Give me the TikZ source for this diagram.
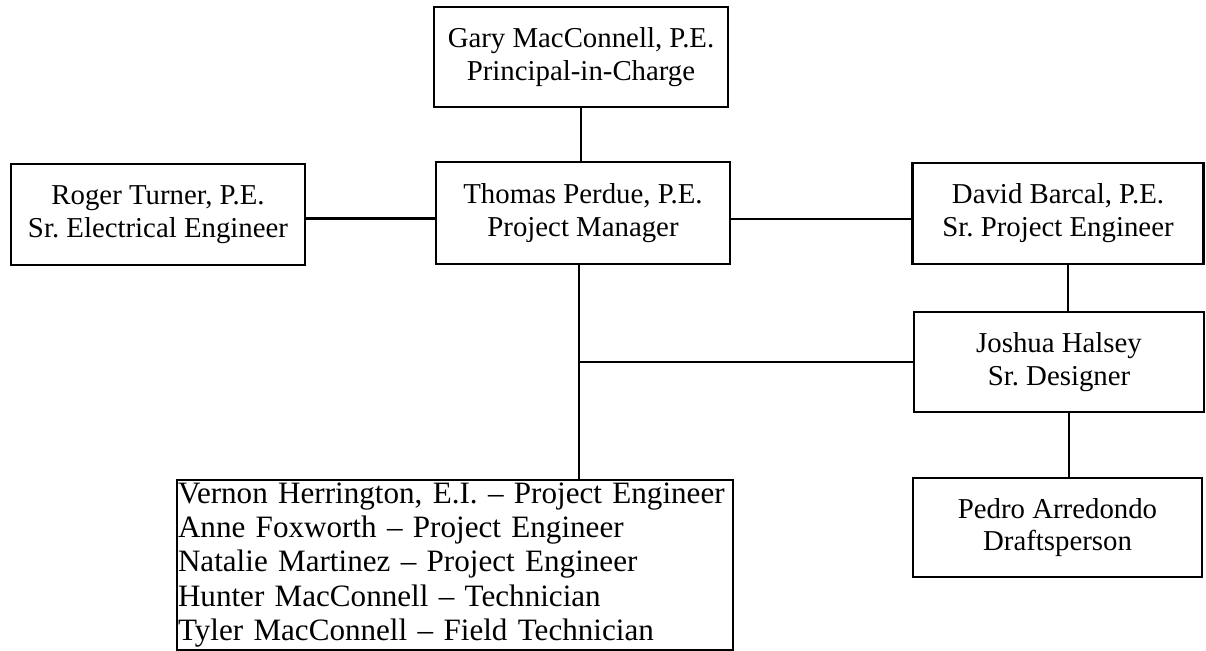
\documentclass[tikz,border=0pt]{standalone}
\usepackage{fontspec}
\setmainfont{Liberation Serif}
\begin{document}
\frenchspacing
\begin{tikzpicture}[x=0.02cm,y=-0.02cm,
  box/.style={draw, line width=1.2pt, align=center, inner sep=0pt,
    font=\frenchspacing\fontsize{16.4}{18.7}\selectfont},
  line/.style={line width=1.2pt}]
\useasboundingbox (0,0) rectangle (1206,650);
\node[box, minimum width=294*0.02cm, minimum height=100*0.02cm] (gary) at (581,57) {Gary MacConnell, P.E.\\Principal-in-Charge};
\node[box, minimum width=294*0.02cm, minimum height=102*0.02cm] (thomas) at (583,213) {Thomas Perdue, P.E.\\Project Manager};
\node[box, minimum width=294*0.02cm, minimum height=101*0.02cm] (roger) at (158,214.5) {Roger Turner, P.E.\\Sr. Electrical Engineer};
\node[box, minimum width=291*0.02cm, minimum height=101*0.02cm] (david) at (1058,213.5) {David Barcal, P.E.\\Sr. Project Engineer};
\node[box, minimum width=290*0.02cm, minimum height=100*0.02cm] (joshua) at (1059,362) {Joshua Halsey\\Sr. Designer};
\node[box, minimum width=289*0.02cm, minimum height=99*0.02cm] (pedro) at (1057.5,527.5) {Pedro Arredondo\\Draftsperson};
\node[box, align=left, font=\frenchspacing\fontsize{17.7}{19.5}\selectfont, minimum width=556*0.02cm, minimum height=170*0.02cm, text width=554*0.02cm, inner xsep=1*0.02cm] (team) at (455,565) {Vernon Herrington, E.I. -- Project Engineer\\Anne Foxworth -- Project Engineer\\Natalie Martinez -- Project Engineer\\Hunter MacConnell -- Technician\\Tyler MacConnell -- Field Technician};
\draw[line] (gary.south) -- (gary.south |- thomas.north);
\draw[line] ([yshift=-0.08cm]roger.east) -- ([yshift=-0.08cm]roger.east -| thomas.west);
\draw[line] ([yshift=-0.12cm]thomas.east) -- ([yshift=-0.12cm]thomas.east -| david.west);
\draw[line] ([xshift=0.2cm]david.south) -- ([xshift=0.2cm]david.south |- joshua.north);
\draw[line] ([xshift=0.2cm]joshua.south) -- ([xshift=0.2cm]joshua.south |- pedro.north);
\coordinate (trunk) at ([xshift=-0.08cm]thomas.south);
\coordinate (branch) at (trunk |- joshua.west);
\draw[line] (trunk) -- (trunk |- team.north);
\draw[line] (branch) -- (joshua.west);
\end{tikzpicture}
\end{document}
